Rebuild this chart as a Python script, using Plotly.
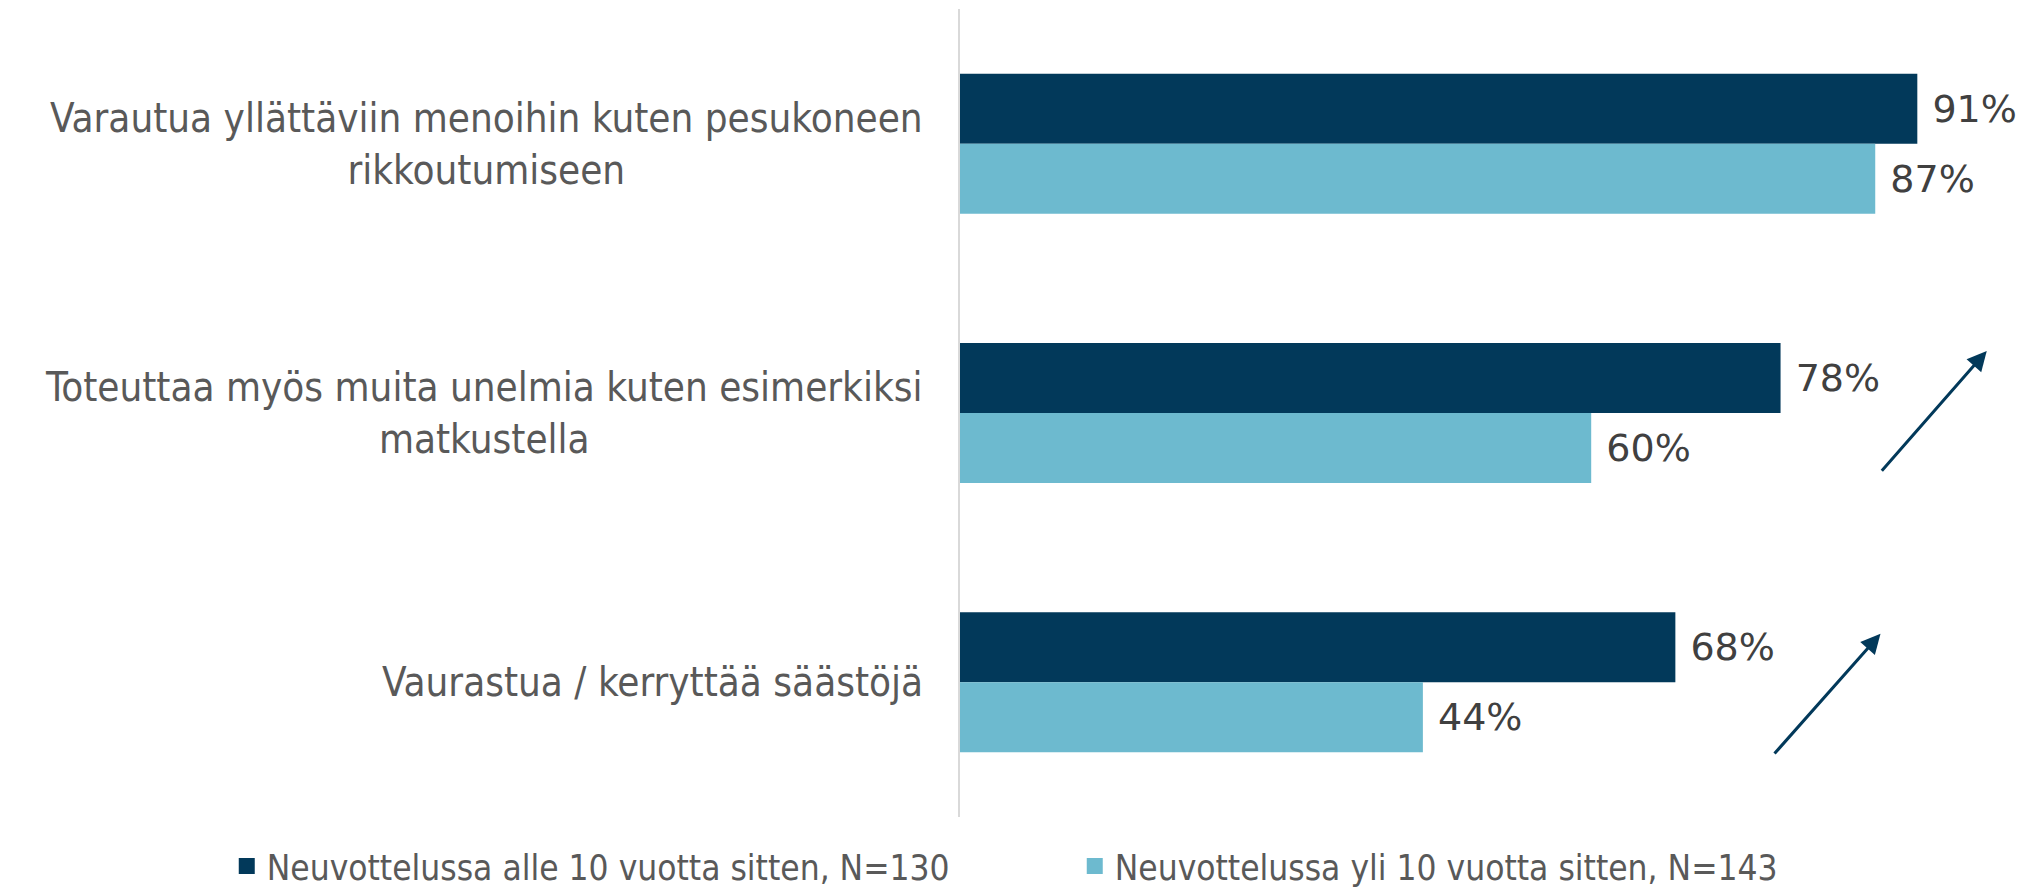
import plotly.graph_objects as go

# Datos
kategoriat = [
    "Varautua yllättäviin menoihin kuten pesukoneen<br>rikkoutumiseen",
    "Toteuttaa myös muita unelmia kuten esimerkiksi<br>matkustella",
    "Vaurastua / kerryttää säästöjä",
]
alle_10 = [91, 78, 68]
yli_10 = [87, 60, 44]
sarja_nimet = [
    "Neuvottelussa alle 10 vuotta sitten, N=130",
    "Neuvottelussa yli 10 vuotta sitten, N=143",
]

tumma = "#02395a"
vaalea = "#6dbacf"
teksti_harmaa = "#595959"
arvo_harmaa = "#404040"
label_font = "DejaVu Sans Condensed, Liberation Sans Narrow, Liberation Sans, sans-serif"

fig = go.Figure()

for nimi, arvot, vari in [(sarja_nimet[0], alle_10, tumma), (sarja_nimet[1], yli_10, vaalea)]:
    fig.add_trace(go.Bar(
        y=kategoriat,
        x=arvot,
        name=nimi,
        orientation="h",
        marker=dict(color=vari, line=dict(width=0)),
        texttemplate=" %{x}%",
        textposition="outside",
        cliponaxis=False,
        textfont=dict(family="DejaVu Sans", size=38, color=arvo_harmaa),
        showlegend=False,
    ))
    # isompi neliö selitteeseen
    fig.add_trace(go.Scatter(
        x=[None], y=[None],
        mode="markers",
        name=nimi,
        marker=dict(symbol="square", size=18, color=vari),
        showlegend=True,
    ))

# Kategorioiden nimet keskitettyinä annotaatioina
for kat in kategoriat:
    fig.add_annotation(
        x=0, xref="paper", xanchor="right", xshift=-35,
        y=kat, yref="y",
        text=kat, showarrow=False, align="center",
        font=dict(family=label_font, size=40, color=teksti_harmaa),
    )

# Nuolet
for (x0, y0, x1, y1) in [(87.5, 1.22, 97.6, 0.77), (77.3, 2.27, 87.5, 1.82)]:
    fig.add_annotation(
        x=x1, y=y1, ax=x0, ay=y0,
        xref="x", yref="y", axref="x", ayref="y",
        text="", showarrow=True,
        arrowhead=2, arrowsize=1.3, arrowwidth=3, arrowcolor=tumma,
    )

fig.update_layout(
    width=2040, height=891,
    margin=dict(l=960, r=28, t=9, b=74, autoexpand=False),
    plot_bgcolor="white",
    paper_bgcolor="white",
    barmode="group",
    bargap=0.48,
    bargroupgap=0,
    showlegend=True,
    legend=dict(
        orientation="h",
        x=-0.697, xanchor="left",
        y=-0.061, yanchor="middle",
        entrywidth=803,
        itemsizing="trace",
        font=dict(family=label_font, size=35, color=teksti_harmaa),
        traceorder="normal",
    ),
    xaxis=dict(range=[0, 100], visible=False, fixedrange=True),
    yaxis=dict(
        autorange="reversed",
        showticklabels=False,
        showgrid=False,
        showline=True,
        linecolor="#d9d9d9",
        linewidth=2,
        ticks="",
    ),
)

fig.write_html(
    "out.html",
    config={"displayModeBar": False},
    post_script="document.body.style.margin='0';document.body.style.overflow='hidden';",
)
